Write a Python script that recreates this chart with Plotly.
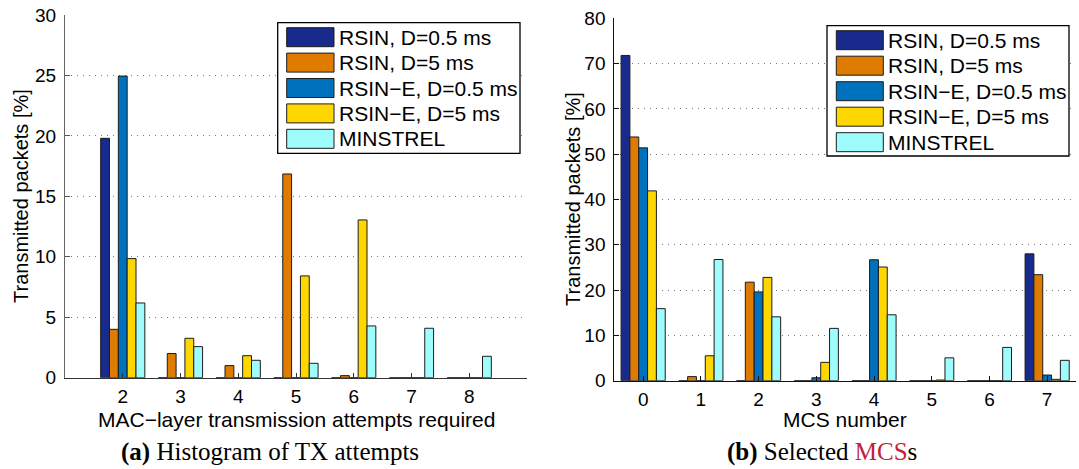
import plotly.graph_objects as go

# ---------------- data ----------------
series_names = ["RSIN, D=0.5 ms", "RSIN, D=5 ms", "RSIN\u2212E, D=0.5 ms", "RSIN\u2212E, D=5 ms", "MINSTREL"]

attempts = [2, 3, 4, 5, 6, 7, 8]
att_rsin_05 = [19.8, 0.0, 0.0, 0.0, 0.0, 0.0, 0.0]
att_rsin_5 = [4.0, 2.0, 1.0, 16.85, 0.17, 0.0, 0.0]
att_rsine_05 = [24.95, 0.0, 0.0, 0.0, 0.0, 0.0, 0.0]
att_rsine_5 = [9.85, 3.26, 1.82, 8.42, 13.05, 0.0, 0.0]
att_minstrel = [6.18, 2.57, 1.44, 1.19, 4.28, 4.09, 1.77]

mcs = [0, 1, 2, 3, 4, 5, 6, 7]
mcs_rsin_05 = [71.8, 0.0, 0.0, 0.0, 0.0, 0.0, 0.0, 28.0]
mcs_rsin_5 = [53.8, 0.9, 21.75, 0.0, 0.0, 0.0, 0.0, 23.4]
mcs_rsine_05 = [51.4, 0.0, 19.6, 0.65, 26.7, 0.0, 0.0, 1.25]
mcs_rsine_5 = [41.9, 5.5, 22.8, 4.05, 25.1, 0.15, 0.0, 0.3]
mcs_minstrel = [15.9, 26.75, 14.1, 11.55, 14.55, 5.05, 7.35, 4.5]

att_ticks = [2, 3, 4, 5, 6, 7, 8]
att_yticks = [0, 5, 10, 15, 20, 25, 30]
mcs_yticks = [0, 10, 20, 30, 40, 50, 60, 70, 80]

# ---------------- style ----------------
colors = ["#182a8b", "#df7b00", "#0071bc", "#ffd700", "#9ffcfc"]
edge = "#1c1c1c"
W, H = 1079, 469
SANS = "Liberation Sans, Arial, Helvetica, sans-serif"
SERIF = "Liberation Serif, Times New Roman, serif"


def px(x):
    return x / W


def py(y):
    return 1 - y / H


fig = go.Figure()

left_sets = [att_rsin_05, att_rsin_5, att_rsine_05, att_rsine_5, att_minstrel]
right_sets = [mcs_rsin_05, mcs_rsin_5, mcs_rsine_05, mcs_rsine_5, mcs_minstrel]

for name, vals, c in zip(series_names, left_sets, colors):
    fig.add_trace(go.Bar(x=attempts, y=vals, name=name, marker=dict(color=c, line=dict(color=edge, width=1)),
                         xaxis="x", yaxis="y", showlegend=False, offsetgroup=name))
for name, vals, c in zip(series_names, right_sets, colors):
    fig.add_trace(go.Bar(x=mcs, y=vals, name=name, marker=dict(color=c, line=dict(color=edge, width=1)),
                         xaxis="x2", yaxis="y2", showlegend=False, offsetgroup=name))

tickfont = dict(family=SANS, size=19, color="black")
GRID_DASH = "1px,5px"

fig.update_layout(
    template="none",
    width=W, height=H,
    margin=dict(l=0, r=0, t=0, b=0, pad=0, autoexpand=False),
    paper_bgcolor="white", plot_bgcolor="white",
    barmode="group", bargap=0.235, bargroupgap=0,
    showlegend=False,
    xaxis=dict(domain=[px(65), px(527)], range=[1, 9], tickvals=att_ticks, ticks="inside", ticklen=5,
               tickcolor="#333", showline=True, linecolor="#333", linewidth=1, showgrid=False, zeroline=False,
               tickfont=tickfont, ticklabelstandoff=1, anchor="y", automargin=False),
    yaxis=dict(domain=[py(377.7), py(15)], range=[0, 30], tickvals=att_yticks, ticks="inside", ticklen=5,
               tickcolor="#555", showline=True, linecolor="#666", linewidth=1, showgrid=True,
               gridcolor="#777", griddash=GRID_DASH, gridwidth=1, zeroline=False, tickfont=tickfont,
               ticklabelstandoff=4, anchor="x", automargin=False),
    xaxis2=dict(domain=[px(614.3), px(1076)], range=[-0.5, 7.5], tickvals=mcs, ticks="inside", ticklen=5,
                tickcolor="#111", showline=True, linecolor="#111", linewidth=1, showgrid=False, zeroline=False,
                tickfont=tickfont, ticklabelstandoff=1, anchor="y2", automargin=False),
    yaxis2=dict(domain=[py(380.7), py(18.3)], range=[0, 80], tickvals=mcs_yticks, ticks="inside", ticklen=5,
                tickcolor="#111", showline=True, linecolor="#111", linewidth=1, showgrid=True,
                gridcolor="#777", griddash=GRID_DASH, gridwidth=1, zeroline=False, tickfont=tickfont,
                ticklabelstandoff=4, anchor="x2", automargin=False),
)

shapes = []
annotations = []


def add_legend(box, sw_x0, sw_x1, text_x, row0, dy, sw_h=19):
    bx0, by0, bx1, by1 = box
    shapes.append(dict(type="rect", xref="paper", yref="paper", x0=px(bx0), x1=px(bx1), y0=py(by1), y1=py(by0),
                       line=dict(color="black", width=1.3), fillcolor="white", layer="above"))
    for i, (name, c) in enumerate(zip(series_names, colors)):
        yc = row0 + i * dy
        shapes.append(dict(type="rect", xref="paper", yref="paper", x0=px(sw_x0), x1=px(sw_x1),
                           y0=py(yc + sw_h / 2), y1=py(yc - sw_h / 2),
                           line=dict(color=edge, width=1), fillcolor=c, layer="above"))
        annotations.append(dict(text=name, xref="paper", yref="paper", x=px(text_x), y=py(yc), xanchor="left",
                                yanchor="middle", showarrow=False, font=dict(family=SANS, size=21, color="black")))


add_legend((277.7, 22.7, 520, 153.3), 286.7, 334, 337, 37.2, 25.4)
add_legend((827, 25.7, 1069, 156), 836.3, 883.3, 886, 40.2, 25.5)

axis_title_font = dict(family=SANS, size=21, color="black")
annotations += [
    dict(text="MAC\u2212layer transmission attempts required", xref="paper", yref="paper", x=px(296), y=py(419),
         xanchor="center", yanchor="middle", showarrow=False, font=axis_title_font),
    dict(text="MCS number", xref="paper", yref="paper", x=px(845), y=py(419),
         xanchor="center", yanchor="middle", showarrow=False, font=axis_title_font),
    dict(text="Transmitted packets [%]", xref="paper", yref="paper", x=px(21), y=py(196), textangle=-90,
         xanchor="center", yanchor="middle", showarrow=False, font=dict(family=SANS, size=20, color="black")),
    dict(text="Transmitted packets [%]", xref="paper", yref="paper", x=px(573), y=py(199), textangle=-90,
         xanchor="center", yanchor="middle", showarrow=False, font=dict(family=SANS, size=20, color="black")),
    dict(text="<b>(a)</b> Histogram of TX attempts", xref="paper", yref="paper", x=px(270), y=py(452),
         xanchor="center", yanchor="middle", showarrow=False, font=dict(family=SERIF, size=25, color="black")),
    dict(text="<b>(b)</b> Selected <span style='color:#c3213a'>MCS</span>s", xref="paper", yref="paper",
         x=px(822), y=py(452), xanchor="center", yanchor="middle", showarrow=False,
         font=dict(family=SERIF, size=25, color="black")),
]

fig.update_layout(shapes=shapes, annotations=annotations)
fig.write_html("out.html")
